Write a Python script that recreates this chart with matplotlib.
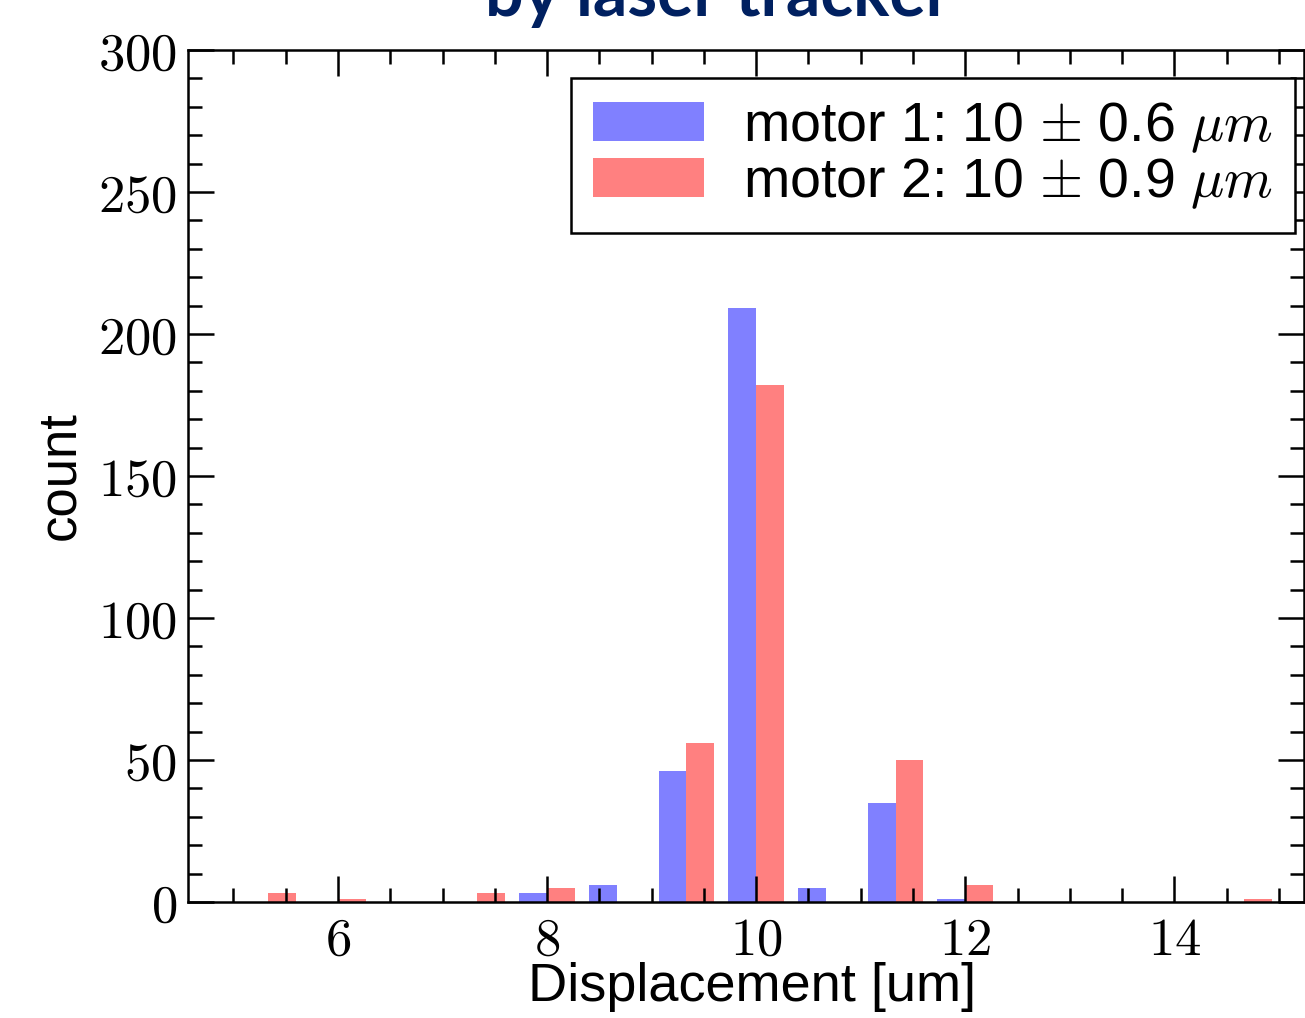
import numpy as np
import matplotlib
matplotlib.use('Agg')
import matplotlib.pyplot as plt
from matplotlib.ticker import MultipleLocator, FuncFormatter

# bin centres (width 2/3 um) and counts
centres = [5.333, 6.0, 6.667, 7.333, 8.0, 8.667, 9.333, 10.0,
           10.667, 11.333, 12.0, 12.667, 13.333, 14.0, 14.667]
motor1 = [0, 0, 0, 0, 3, 6, 46, 209, 5, 35, 1, 0, 0, 0, 0]
motor2 = [3, 1, 0, 3, 5, 0, 56, 182, 0, 50, 6, 0, 0, 0, 1]
labels = [r'motor 1: 10 $\pm$ 0.6 $\mu m$', r'motor 2: 10 $\pm$ 0.9 $\mu m$']
title = 'by laser tracker'

plt.rcParams['font.family'] = ['Liberation Sans', 'DejaVu Sans']
plt.rcParams['mathtext.fontset'] = 'cm'

W, H = 1305, 1018
fig = plt.figure(figsize=(W / 100, H / 100), dpi=100)
ax = fig.add_axes([188 / W, 1 - 902 / H, (1304 - 188) / W, (902 - 50) / H])

w = 0.8 * (2 / 3) / 2
c = np.array(centres)
ax.bar(c - w / 2, motor1, width=w, color='#8080ff', label=labels[0])
ax.bar(c + w / 2, motor2, width=w, color='#ff8080', label=labels[1])

ax.set_xlim(4.565, 15.24)
ax.set_ylim(0, 300)
ax.xaxis.set_major_locator(MultipleLocator(2))
ax.xaxis.set_minor_locator(MultipleLocator(0.5))
ax.yaxis.set_major_locator(MultipleLocator(50))
ax.yaxis.set_minor_locator(MultipleLocator(10))
fmt = FuncFormatter(lambda v, p: '$%d$' % v)
ax.xaxis.set_major_formatter(fmt)
ax.yaxis.set_major_formatter(fmt)

ax.tick_params(which='both', direction='in', top=True, right=True, width=1.8)
ax.tick_params(which='major', length=19, labelsize=38)
ax.tick_params(which='minor', length=10)
ax.tick_params(axis='y', pad=8)
ax.tick_params(axis='x', pad=10)
for s in ax.spines.values():
    s.set_linewidth(1.8)

ax.set_xlabel('Displacement [um]', fontsize=39)
ax.set_ylabel('count', fontsize=38)
ax.xaxis.set_label_coords(0.505, -0.070)
ax.yaxis.set_label_coords(-0.092, 0.5)

leg = ax.legend(loc='upper right', bbox_to_anchor=(1295 / W, 1 - 78 / H),
                bbox_transform=fig.transFigure, borderaxespad=0,
                fontsize=40, fancybox=False, edgecolor='black',
                framealpha=1, labelspacing=0.02, handlelength=2.0,
                handleheight=0.7, handletextpad=0.7, borderpad=0.4)
leg.get_frame().set_linewidth(1.8)

fig.text(718 / W, 1 - 16 / H, title, ha='center', va='baseline',
         fontsize=49, fontweight='bold', color='#002060',
         family=['Lato', 'DejaVu Sans'])

fig.savefig('out.png', dpi=100)
